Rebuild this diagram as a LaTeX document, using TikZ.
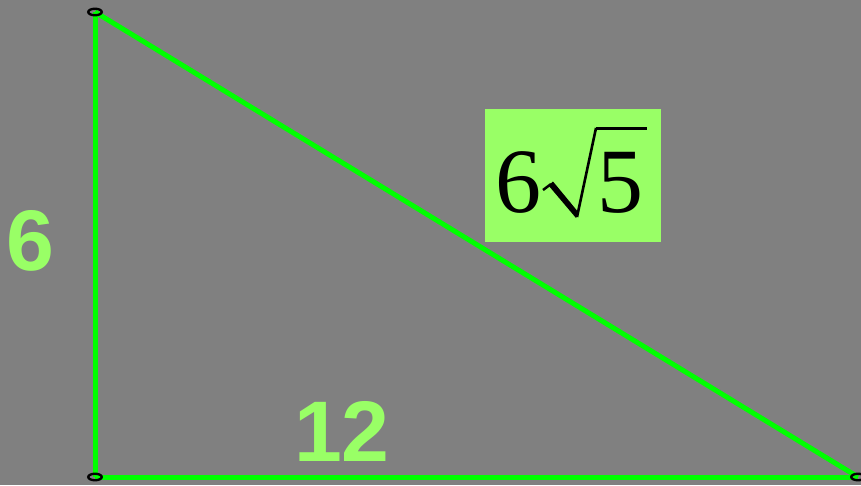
\documentclass[tikz,border=0pt]{standalone}
\usepackage{fontspec}
\setmainfont{Liberation Serif}
\setsansfont{Liberation Sans}
\usetikzlibrary{shapes.geometric}
\definecolor{bg}{HTML}{808080}
\definecolor{edge}{HTML}{00FF00}
\definecolor{lbl}{HTML}{99FF66}
\begin{document}
\begin{tikzpicture}[x=1pt,y=-1pt,
  side/.style={draw=edge,line width=5pt},
  vert/.style={draw=black,line width=2.4pt,ellipse,minimum width=13.5pt,minimum height=6.5pt,inner sep=0pt},
  lenlabel/.style={text=lbl,font=\sffamily\bfseries\fontsize{86}{86}\selectfont,inner sep=0pt},
  hyplabel/.style={fill=lbl,minimum width=176pt,minimum height=133pt,inner sep=0pt},
  digit/.style={text=black,font=\fontsize{92}{92}\selectfont,inner sep=0pt,anchor=base},
  radical/.style={draw=black,line cap=butt,line join=miter}]
\fill[bg] (0,0) rectangle (861,485);
\useasboundingbox (0,0) rectangle (861,485);
\coordinate (A) at (95,12);
\coordinate (B) at (95,477);
\coordinate (C) at (858,477);
\draw[side] (A) -- (B);
\draw[side] (B) -- (C);
\draw[side] (A) -- (C);
\node[vert] (va) at (A) {};
\node[vert] (vb) at (B) {};
\node[vert] (vc) at (C) {};
\node[hyplabel] (h) at (573,175.5) {};
\node[digit] (d6) at (518.5,212.5) {6};
\node[digit] (d5) at (620,212.5) {5};
\draw[radical,line width=2.5pt] (543,190) -- (551,184);
\fill[black] (548.5,185.5) -- (553,181.5) -- (579,213) -- (576,218) -- cycle;
\draw[radical,line width=2.6pt] (577,217) -- (596,128);
\draw[radical,line width=3pt] (595.5,128) -- (647,128);
\node[lenlabel] (s6) at (30,241) {6};
\node[lenlabel] (s12) at (342,431) {12};
\end{tikzpicture}
\end{document}
